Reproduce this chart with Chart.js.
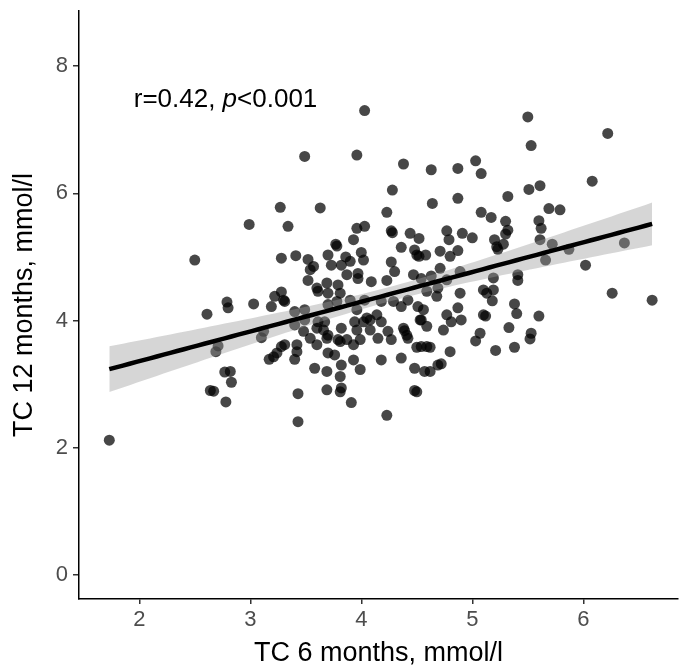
<!DOCTYPE html>
<html><head><meta charset="utf-8">
<script src="https://cdn.jsdelivr.net/npm/chart.js@4/dist/chart.umd.min.js"></script>
<style>html,body{margin:0;padding:0;background:#fff}#wrap{width:684px;height:670px}</style>
</head><body><div id="wrap"><canvas id="c" width="684" height="670"></canvas></div>
<script>
// TC at 6 months (x) and 12 months (y), mmol/l
const tc6 = [
1.73,2.50,2.99,2.79,2.80,2.61,3.03,3.19,3.12,3.10,2.71,2.69,3.17,3.21,2.77,2.82,2.83,2.64,2.67,2.78,
4.03,3.49,3.96,4.38,4.63,4.87,4.28,4.64,4.87,3.27,3.63,4.23,3.34,3.96,4.03,4.27,4.28,4.44,4.52,4.77,
4.79,3.93,3.77,3.78,4.36,4.48,4.00,3.70,3.41,3.28,3.52,3.86,4.02,4.27,4.50,4.52,4.58,4.71,4.80,4.87,
5.50,6.22,5.53,5.03,5.08,6.08,5.51,5.61,5.32,5.69,5.79,5.08,5.17,5.30,5.32,5.30,5.60,5.62,5.61,4.91,
5.00,5.20,5.22,5.28,5.23,5.72,5.87,6.37,5.66,
4.89,5.19,5.41,5.41,6.02,6.26,4.89,5.10,5.13,5.19,5.18,4.87,5.38,5.10,5.12,5.40,5.60,4.90,5.33,5.07,
5.03,5.53,5.52,5.21,5.38,6.62,
3.57,3.54,3.73,3.82,3.90,4.71,3.52,3.87,3.97,3.97,4.09,4.23,4.30,4.47,4.54,4.63,3.60,3.61,3.69,3.79,
3.70,3.81,3.28,3.31,3.30,3.22,3.90,4.03,4.18,4.29,4.42,4.36,4.51,4.59,4.68,4.69,4.77,3.49,3.40,3.78,
3.70,3.96,4.14,4.05,4.56,4.54,4.77,4.81,3.40,3.49,3.61,3.67,3.60,3.66,3.70,3.82,3.94,3.96,4.02,4.08,
4.08,4.18,4.24,4.38,4.39,4.41,4.53,4.59,4.74,3.48,3.54,3.60,3.69,3.79,3.81,3.87,3.93,3.99,4.15,4.27,
4.42,3.31,3.28,3.24,3.42,3.42,3.40,3.70,3.76,4.50,4.54,4.59,4.62,4.80,3.82,3.93,3.99,4.18,4.36,4.48,
4.57,4.62,4.69,4.72,3.58,3.69,3.81,3.82,3.81,3.69,3.43,3.91,4.48,4.50,4.23,3.43
];
const tc12 = [
2.12,4.95,5.51,4.29,4.20,4.10,4.26,4.22,3.83,3.73,3.60,3.51,3.39,3.43,3.19,3.20,3.03,2.90,2.89,2.72,
7.30,6.58,6.60,6.46,6.37,6.39,6.05,5.84,5.92,5.78,5.77,5.70,5.48,5.45,5.48,5.41,5.38,5.37,5.29,5.41,
5.27,5.27,5.20,5.17,5.15,5.11,5.07,5.03,5.02,4.98,4.96,5.00,4.95,4.92,5.03,5.01,5.03,5.09,5.01,5.10,
7.20,6.94,6.75,6.51,6.31,6.19,6.06,6.12,5.95,5.76,5.74,5.70,5.62,5.56,5.42,5.36,5.57,5.45,5.27,5.37,
5.30,5.27,5.16,5.20,5.12,5.20,5.12,5.22,4.95,
4.77,4.67,4.72,4.63,4.87,4.43,4.43,4.48,4.43,4.48,4.31,4.20,4.26,4.09,4.07,4.11,4.07,4.01,3.89,3.80,
3.68,3.80,3.71,3.53,3.58,4.32,
4.85,4.80,4.87,4.87,4.93,4.82,4.63,4.72,4.74,4.66,4.61,4.63,4.77,4.72,4.66,4.70,4.51,4.46,4.59,4.56,
4.43,4.43,4.45,4.30,4.32,4.38,4.32,4.32,4.30,4.30,4.32,4.22,4.22,4.46,4.38,4.51,4.64,4.17,4.14,4.30,
4.25,4.17,4.09,4.04,4.17,4.01,4.09,3.98,3.93,4.01,3.98,3.98,3.88,3.85,3.77,3.88,3.98,3.85,3.98,4.01,
3.85,3.98,3.83,3.88,3.84,3.77,4.01,3.91,3.85,3.83,3.72,3.62,3.72,3.70,3.67,3.70,3.62,3.70,3.72,3.70,
3.72,3.62,3.59,3.49,3.62,3.51,3.39,3.49,3.46,3.58,3.59,3.59,3.58,3.51,3.30,3.38,3.23,3.38,3.41,3.25,
3.20,3.20,3.30,3.32,3.25,3.20,3.12,2.94,2.88,2.91,2.85,2.71,2.90,2.88,2.51,2.41
];
const xTicks = [2, 3, 4, 5, 6];
const yTicks = [0, 2, 4, 6, 8];
const xTitle = 'TC 6 months, mmol/l';
const yTitle = 'TC 12 months, mmol/l';
const statParts = [['r=0.42, ', 'normal'], ['p', 'italic'], ['<0.001', 'normal']];
const statAnchor = [1.95, 7.36];
const xRange = [1.457, 6.853];
const yRange = [-0.377, 8.865];

// Linear regression with 95% confidence band
const n = tc6.length;
const mx = tc6.reduce((a, b) => a + b, 0) / n;
const my = tc12.reduce((a, b) => a + b, 0) / n;
let sxx = 0, sxy = 0;
for (let i = 0; i < n; i++) { sxx += (tc6[i] - mx) ** 2; sxy += (tc6[i] - mx) * (tc12[i] - my); }
const slope = sxy / sxx, icpt = my - slope * mx;
let sse = 0;
for (let i = 0; i < n; i++) sse += (tc12[i] - icpt - slope * tc6[i]) ** 2;
const s = Math.sqrt(sse / (n - 2));
const tCrit = 1.97;
const xmin = Math.min(...tc6), xmax = Math.max(...tc6);
const fit = [], lo = [], hi = [];
for (let k = 0; k <= 80; k++) {
  const x = xmin + (xmax - xmin) * k / 80;
  const yh = icpt + slope * x;
  const se = s * Math.sqrt(1 / n + (x - mx) ** 2 / sxx);
  fit.push({x, y: yh}); lo.push({x, y: yh - tCrit * se}); hi.push({x, y: yh + tCrit * se});
}

const FONT = '"Liberation Sans", Arial, Helvetica, sans-serif';

const statLabel = {
  id: 'statLabel',
  afterDatasetsDraw(chart) {
    const {ctx, scales} = chart;
    let x = scales.x.getPixelForValue(statAnchor[0]);
    const y = scales.y.getPixelForValue(statAnchor[1]);
    ctx.save();
    ctx.fillStyle = '#000';
    ctx.textBaseline = 'alphabetic';
    ctx.textAlign = 'left';
    for (const [t, st] of statParts) {
      ctx.font = st + ' 26px ' + FONT;
      ctx.fillText(t, x, y);
      x += ctx.measureText(t).width;
    }
    ctx.restore();
  }
};

new Chart(document.getElementById('c'), {
  data: {
    datasets: [
      { type: 'scatter', data: tc6.map((v, i) => ({x: v, y: tc12[i]})), pointRadius: 5.5, pointHoverRadius: 5.5,
        backgroundColor: 'rgba(0,0,0,0.72)', borderWidth: 0, order: 3 },
      { type: 'line', data: lo, borderWidth: 0, pointRadius: 0, fill: false, order: 2, borderColor: 'rgba(0,0,0,0)' },
      { type: 'line', data: hi, borderWidth: 0, pointRadius: 0, fill: '-1', order: 2, borderColor: 'rgba(0,0,0,0)',
        backgroundColor: 'rgba(153,153,153,0.4)' },
      { type: 'line', data: fit, borderColor: '#000', borderWidth: 4.5, pointRadius: 0, fill: false, order: 1 }
    ]
  },
  options: {
    responsive: false, animation: false, devicePixelRatio: 1,
    layout: { padding: { left: 0, top: 11, right: 6, bottom: 0 } },
    plugins: { legend: { display: false }, tooltip: { enabled: false } },
    scales: {
      x: {
        type: 'linear', min: xRange[0], max: xRange[1],
        afterBuildTicks: sc => { sc.ticks = xTicks.map(v => ({value: v})); },
        afterFit: sc => { sc.height = 71; sc.paddingLeft = 0; sc.paddingRight = 0; },
        grid: { drawOnChartArea: false, drawTicks: true, tickLength: 5, color: '#333', lineWidth: 1.5 },
        border: { display: true, color: '#000', width: 1.5 },
        ticks: { font: { size: 22, family: FONT }, color: '#4d4d4d', padding: 3, maxRotation: 0 },
        title: { display: true, text: xTitle, font: { size: 27, family: FONT }, color: '#000', padding: { top: 0, bottom: 0 } }
      },
      y: {
        type: 'linear', min: yRange[0], max: yRange[1],
        afterBuildTicks: sc => { sc.ticks = yTicks.map(v => ({value: v})); },
        afterFit: sc => { sc.width = 79; sc.paddingTop = 0; sc.paddingBottom = 0; },
        grid: { drawOnChartArea: false, drawTicks: true, tickLength: 6, color: '#333', lineWidth: 1.5 },
        border: { display: true, color: '#000', width: 1.5 },
        ticks: { font: { size: 22, family: FONT }, color: '#4d4d4d', padding: 5 },
        title: { display: true, text: yTitle, font: { size: 27, family: FONT }, color: '#000', padding: { top: 8, bottom: 0 } }
      }
    }
  },
  plugins: [statLabel]
});
</script></body></html>
